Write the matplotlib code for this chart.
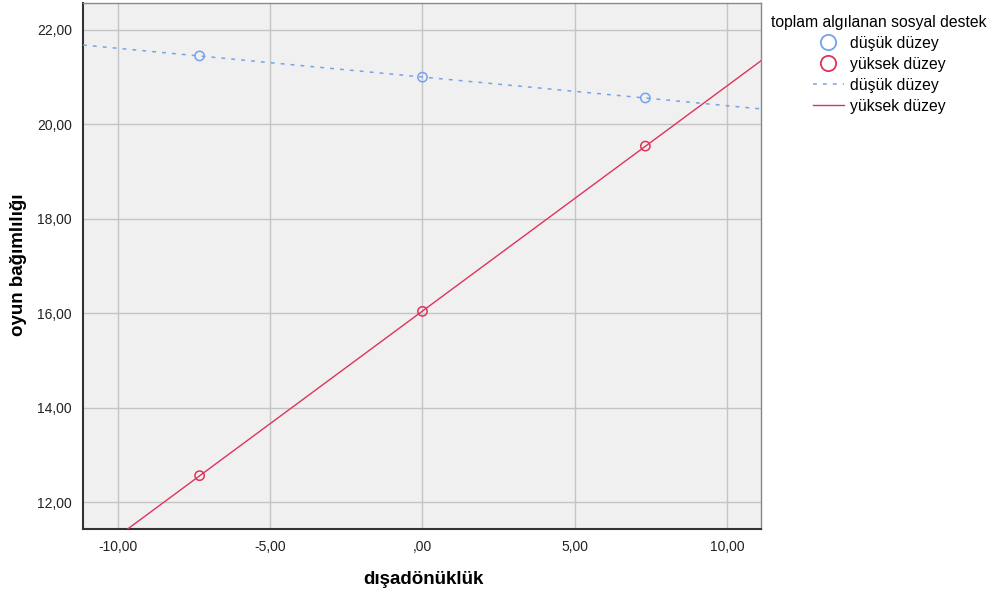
import numpy as np
import matplotlib.pyplot as plt
from matplotlib.lines import Line2D

plt.rcParams['font.family'] = ['Liberation Sans', 'DejaVu Sans']

# grup ortalamalari (dusuk / yuksek sosyal destek)
x_vals = [-7.32, 0.0, 7.32]
dusuk_vals = [21.45, 21.00, 20.56]
yuksek_vals = [12.56, 16.04, 19.54]
group_names = ["düşük düzey", "yüksek düzey"]
x_ticks = [-10, -5, 0, 5, 10]
y_ticks = [12, 14, 16, 18, 20, 22]

blue = "#74a3ea"
red = "#e0335a"


def fmt(v):
    s = "%.2f" % v
    s = s.replace(".", ",")
    if s.startswith("0,"):
        s = s[1:]
    return s


fig = plt.figure(figsize=(9.95, 5.97), dpi=100)
ax = fig.add_axes([0.0834, 0.1139, 0.6815, 0.881])
ax.set_facecolor("#f0f0f0")

xlim = (-11.15, 11.12)
xx = np.array(xlim)

# fit lines
b1 = np.polyfit(x_vals, dusuk_vals, 1)
b2 = np.polyfit(x_vals, yuksek_vals, 1)
ax.plot(xx, np.polyval(b1, xx), color=blue, lw=1.1, ls=(0, (2.5, 4)), zorder=3)
ax.plot(xx, np.polyval(b2, xx), color=red, lw=1, zorder=3)

ax.scatter(x_vals, dusuk_vals, s=45, facecolors="none", edgecolors=blue, lw=1.1, zorder=4)
ax.scatter(x_vals, yuksek_vals, s=45, facecolors="none", edgecolors=red, lw=1.1, zorder=4)

ax.set_xlim(*xlim)
ax.set_ylim(11.43, 22.57)
ax.set_xticks(x_ticks)
ax.set_yticks(y_ticks)
ax.set_xticklabels([fmt(v) for v in x_ticks])
ax.set_yticklabels([fmt(v) for v in y_ticks])
ax.tick_params(length=0, labelsize=10, colors="#222222", pad=8)
ax.grid(True, color="#c4c4c4", lw=1.0)
ax.set_axisbelow(True)
for side in ["top", "right"]:
    ax.spines[side].set_color("#888888")
    ax.spines[side].set_linewidth(1)
for side in ["left", "bottom"]:
    ax.spines[side].set_color("#333333")
    ax.spines[side].set_linewidth(1.5)

fig.text(423 / 995, 1 - 579 / 597, "dışadönüklük", fontsize=13.5, fontweight="bold",
         ha="center", va="center")
fig.text(19 / 995, 1 - 265 / 597, "oyun bağımlılığı", fontsize=13.5, fontweight="bold",
         ha="center", va="center", rotation=90)

handles = [
    Line2D([], [], ls="", marker="o", mfc="none", mec=blue, ms=11, mew=1.3),
    Line2D([], [], ls="", marker="o", mfc="none", mec=red, ms=11, mew=1.3),
    Line2D([], [], color=blue, lw=1.1, ls=(0, (2.5, 4))),
    Line2D([], [], color=red, lw=1),
]
labels = group_names + group_names
leg = fig.legend(handles, labels, title="toplam algılanan sosyal destek",
                 loc="upper left", bbox_to_anchor=(0.775, 0.975), frameon=False,
                 fontsize=11.3, title_fontsize=11.3, handlelength=2.0,
                 handletextpad=0.35, labelspacing=0.38, borderaxespad=0,
                 borderpad=0)
leg._legend_box.align = "center"

fig.savefig("out.png", dpi=100)
